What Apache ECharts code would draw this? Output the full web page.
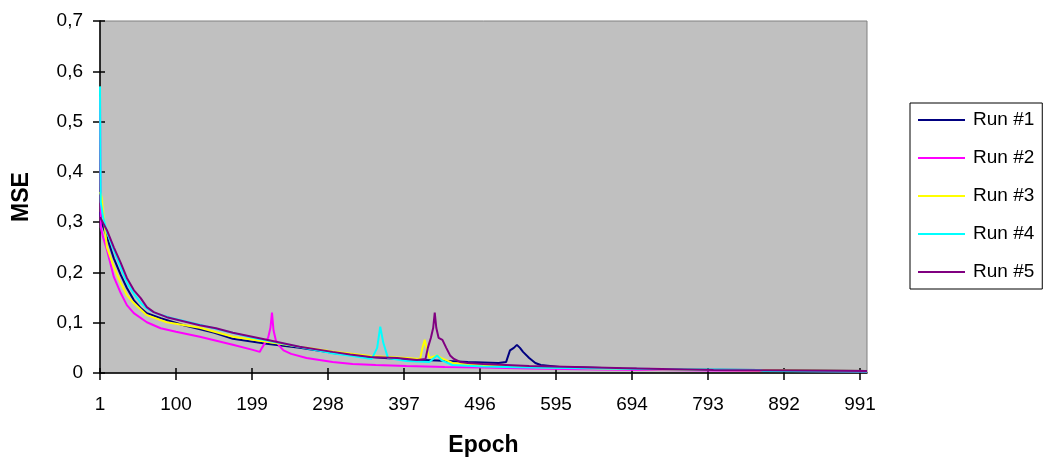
<!DOCTYPE html>
<html>
<head>
<meta charset="utf-8">
<script src="https://cdn.jsdelivr.net/npm/echarts@6/dist/echarts.min.js"></script>
<style>
  html, body { margin: 0; padding: 0; background: #ffffff; }
  #chart { width: 1045px; height: 466px; }
</style>
</head>
<body>
<div id="chart"></div>
<script>
// Training error (MSE) per epoch for five runs, as [epoch, mse] key points.
const seriesNames = ['Run #1', 'Run #2', 'Run #3', 'Run #4', 'Run #5'];
const epochCount = 1000;
const yTicks = [0, 0.1, 0.2, 0.3, 0.4, 0.5, 0.6, 0.7];

const run1 = [
  [1,0.32],[3,0.30],[10,0.27],[19,0.228],[28,0.195],[36,0.169],[45,0.145],[54,0.129],
  [62,0.119],[80,0.109],[110,0.095],[150,0.08],[174,0.068],[218,0.058],[261,0.05],
  [304,0.04],[353,0.032],[400,0.027],[440,0.025],[480,0.022],[520,0.02],[530,0.022],
  [535,0.045],[540,0.05],[544,0.056],[548,0.05],[552,0.042],[560,0.03],[568,0.02],
  [575,0.016],[600,0.012],[630,0.011],[680,0.009],[760,0.007],[860,0.006],[1000,0.004]
];
const run2 = [
  [1,0.55],[2,0.29],[5,0.27],[10,0.245],[19,0.191],[28,0.159],[36,0.135],[45,0.119],
  [62,0.101],[80,0.089],[100,0.082],[131,0.072],[174,0.056],[200,0.046],[209,0.042],
  [212,0.05],[216,0.06],[220,0.07],[223,0.09],[225,0.12],[227,0.085],[230,0.065],
  [234,0.055],[240,0.045],[250,0.038],[270,0.03],[304,0.022],[330,0.018],[360,0.016],
  [400,0.014],[450,0.012],[500,0.011],[560,0.009],[650,0.007],[800,0.005],[1000,0.003]
];
const run3 = [
  [1,0.36],[3,0.35],[10,0.25],[19,0.211],[28,0.179],[36,0.155],[45,0.139],[62,0.115],
  [88,0.101],[131,0.09],[174,0.072],[218,0.062],[261,0.052],[304,0.043],[353,0.034],
  [400,0.03],[418,0.028],[421,0.05],[424,0.066],[427,0.045],[430,0.03],[440,0.035],
  [445,0.03],[460,0.02],[500,0.015],[560,0.012],[650,0.009],[800,0.006],[1000,0.004]
];
const run4 = [
  [1,0.57],[2,0.34],[5,0.31],[10,0.28],[19,0.245],[28,0.21],[36,0.18],[45,0.158],
  [54,0.14],[62,0.128],[75,0.118],[95,0.109],[120,0.1],[160,0.085],[200,0.07],
  [260,0.052],[300,0.04],[330,0.034],[355,0.028],[362,0.05],[366,0.092],[370,0.06],
  [376,0.03],[400,0.024],[430,0.022],[440,0.035],[446,0.025],[460,0.016],[500,0.013],
  [560,0.011],[700,0.008],[860,0.006],[865,0.004],[1000,0.003]
];
const run5 = [
  [1,0.31],[3,0.31],[10,0.284],[19,0.25],[28,0.219],[36,0.189],[45,0.165],[54,0.149],
  [62,0.131],[71,0.121],[88,0.111],[131,0.095],[152,0.089],[174,0.08],[218,0.066],
  [261,0.052],[304,0.042],[327,0.037],[353,0.032],[388,0.03],[414,0.026],[425,0.028],
  [428,0.05],[432,0.07],[435,0.09],[437,0.12],[439,0.09],[442,0.07],[447,0.066],
  [452,0.05],[457,0.035],[462,0.028],[470,0.022],[480,0.02],[500,0.018],[560,0.014],
  [620,0.012],[700,0.009],[800,0.006],[1000,0.004]
];

const runs = [run1, run2, run3, run4, run5];
const colors = ['#000080', '#FF00FF', '#FFFF00', '#00FFFF', '#800080'];

const epochs = Array.from({ length: epochCount }, (_, i) => String(i + 1));
const FONT = '"Liberation Sans", Arial, sans-serif';

const fmtY = v => (v === 0 ? '0' : v.toFixed(1).replace('.', ','));

const chart = echarts.init(document.getElementById('chart'), null, { renderer: 'canvas' });

chart.setOption({
  animation: false,
  backgroundColor: '#ffffff',
  textStyle: { fontFamily: FONT },
  grid: {
    left: 100, right: 178, top: 21, bottom: 93,
    show: true, backgroundColor: '#C0C0C0', borderColor: '#808080', borderWidth: 1
  },
  legend: {
    orient: 'vertical',
    left: 910, top: 103,
    padding: [7, 8, 7, 8],
    itemGap: 18,
    itemWidth: 47, itemHeight: 14,
    backgroundColor: '#ffffff',
    borderColor: '#000000', borderWidth: 1, borderRadius: 0,
    textStyle: { fontFamily: FONT, fontSize: 19, color: '#000', lineHeight: 20, padding: [0, 0, 0, 3] },
    data: seriesNames.map(n => ({ name: n, icon: 'path://M0,0 L47,0 L47,2 L0,2 Z' }))
  },
  xAxis: [{
    type: 'category',
    data: epochs,
    boundaryGap: false,
    name: 'Epoch',
    nameLocation: 'middle',
    nameGap: 61,
    nameTextStyle: { fontFamily: FONT, fontSize: 23, fontWeight: 'bold', color: '#000' },
    axisLine: { show: true, lineStyle: { color: '#000', width: 1.5 } },
    axisTick: { show: true, interval: 98, length: 7, lineStyle: { color: '#000', width: 1.5 } },
    axisLabel: { interval: 98, margin: 22, fontFamily: FONT, fontSize: 19, color: '#000' },
    splitLine: { show: false }
  }, {
    type: 'category',
    data: epochs,
    boundaryGap: false,
    position: 'bottom',
    axisLine: { show: false },
    axisTick: { show: true, inside: true, interval: 98, length: 5, lineStyle: { color: '#000', width: 1.5 } },
    axisLabel: { show: false },
    splitLine: { show: false }
  }],
  yAxis: [{
    type: 'value',
    min: yTicks[0], max: yTicks[yTicks.length - 1], interval: 0.1,
    name: 'MSE',
    nameLocation: 'middle',
    nameGap: 67,
    nameRotate: 90,
    nameTextStyle: { fontFamily: FONT, fontSize: 23, fontWeight: 'bold', color: '#000' },
    axisLine: { show: true, lineStyle: { color: '#000', width: 1.5 } },
    axisTick: { show: true, length: 7, lineStyle: { color: '#000', width: 1.5 } },
    axisLabel: { margin: 17, fontFamily: FONT, fontSize: 19, color: '#000', formatter: fmtY },
    splitLine: { show: false }
  }, {
    type: 'value',
    min: yTicks[0], max: yTicks[yTicks.length - 1], interval: 0.1,
    position: 'left',
    axisLine: { show: false },
    axisTick: { show: true, inside: true, length: 5, lineStyle: { color: '#000', width: 1.5 } },
    axisLabel: { show: false },
    splitLine: { show: false }
  }],
  series: runs.map((run, i) => ({
    name: seriesNames[i],
    type: 'line',
    xAxisIndex: 0,
    yAxisIndex: 0,
    symbol: 'none',
    smooth: false,
    color: colors[i],
    lineStyle: { color: colors[i], width: 2 },
    data: run.map(([e, v]) => [e - 1, v]),
    z: 2 + i
  }))
});
</script>
</body>
</html>
